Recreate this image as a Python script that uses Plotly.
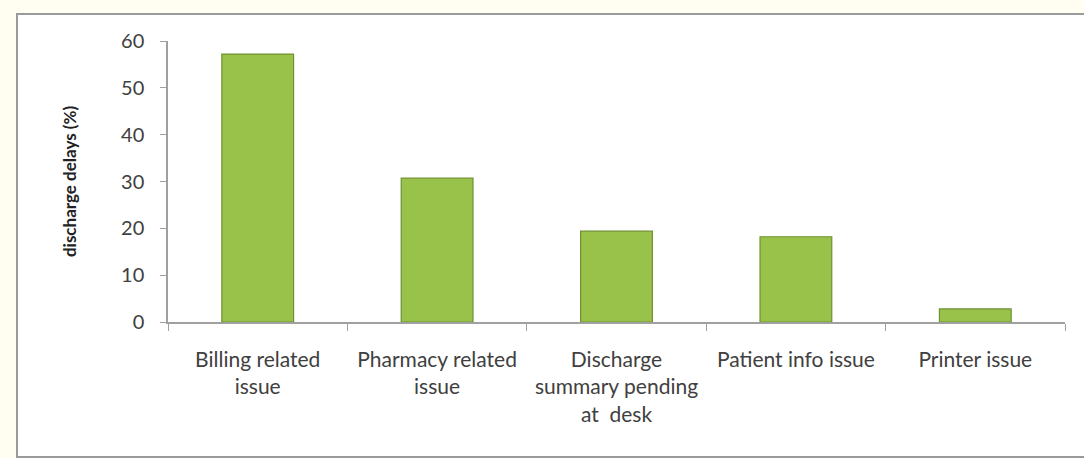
import plotly.graph_objects as go

categories = ["Billing related<br>issue", "Pharmacy related<br>issue",
              "Discharge<br>summary pending<br>at  desk", "Patient info issue", "Printer issue"]
values = [57.2, 30.7, 19.4, 18.2, 2.8]
y_ticks = [0, 10, 20, 30, 40, 50, 60]

W, H = 1084, 458
L, R, T, B = 168, 19, 41, 136

fig = go.Figure()
fig.add_trace(go.Bar(
    x=categories, y=values,
    marker=dict(color="#98c24a", line=dict(color="#6f9130", width=1.2)),
    width=0.4,
))

def px_x(p):
    return (p - L) / (W - L - R)

def px_y(p):
    return (H - B - p) / (H - T - B)

# outer panel border
fig.add_shape(type="rect", xref="paper", yref="paper",
              x0=px_x(17), x1=px_x(1095), y0=px_y(457), y1=px_y(14),
              line=dict(color="#9a9a9a", width=2), fillcolor="white", layer="below")

fig.update_layout(
    width=W, height=H,
    margin=dict(l=L, r=R, t=T, b=B),
    paper_bgcolor="#fffef0",
    plot_bgcolor="rgba(0,0,0,0)",
    showlegend=False,
    font=dict(family="Lato, Open Sans, sans-serif", color="#404040"),
    xaxis=dict(
        type="category", tickson="boundaries", ticks="outside", ticklen=7,
        tickcolor="#a0a0a0", showline=True, linecolor="#a0a0a0", linewidth=1.5,
        tickfont=dict(size=21, color="#404040"), showgrid=False,
        ticklabelstandoff=18,
    ),
    yaxis=dict(
        range=[0, 60], tickvals=y_ticks, ticks="outside", ticklen=6,
        tickcolor="#a0a0a0", showline=True, linecolor="#a0a0a0", linewidth=1.5,
        showgrid=False, zeroline=False, tickfont=dict(size=20, color="#404040"),
        ticklabelstandoff=12,
        title=dict(text="<b>discharge delays (%)</b>", font=dict(size=17, color="#222222"), standoff=40),
    ),
)

fig.write_html("out.html")
